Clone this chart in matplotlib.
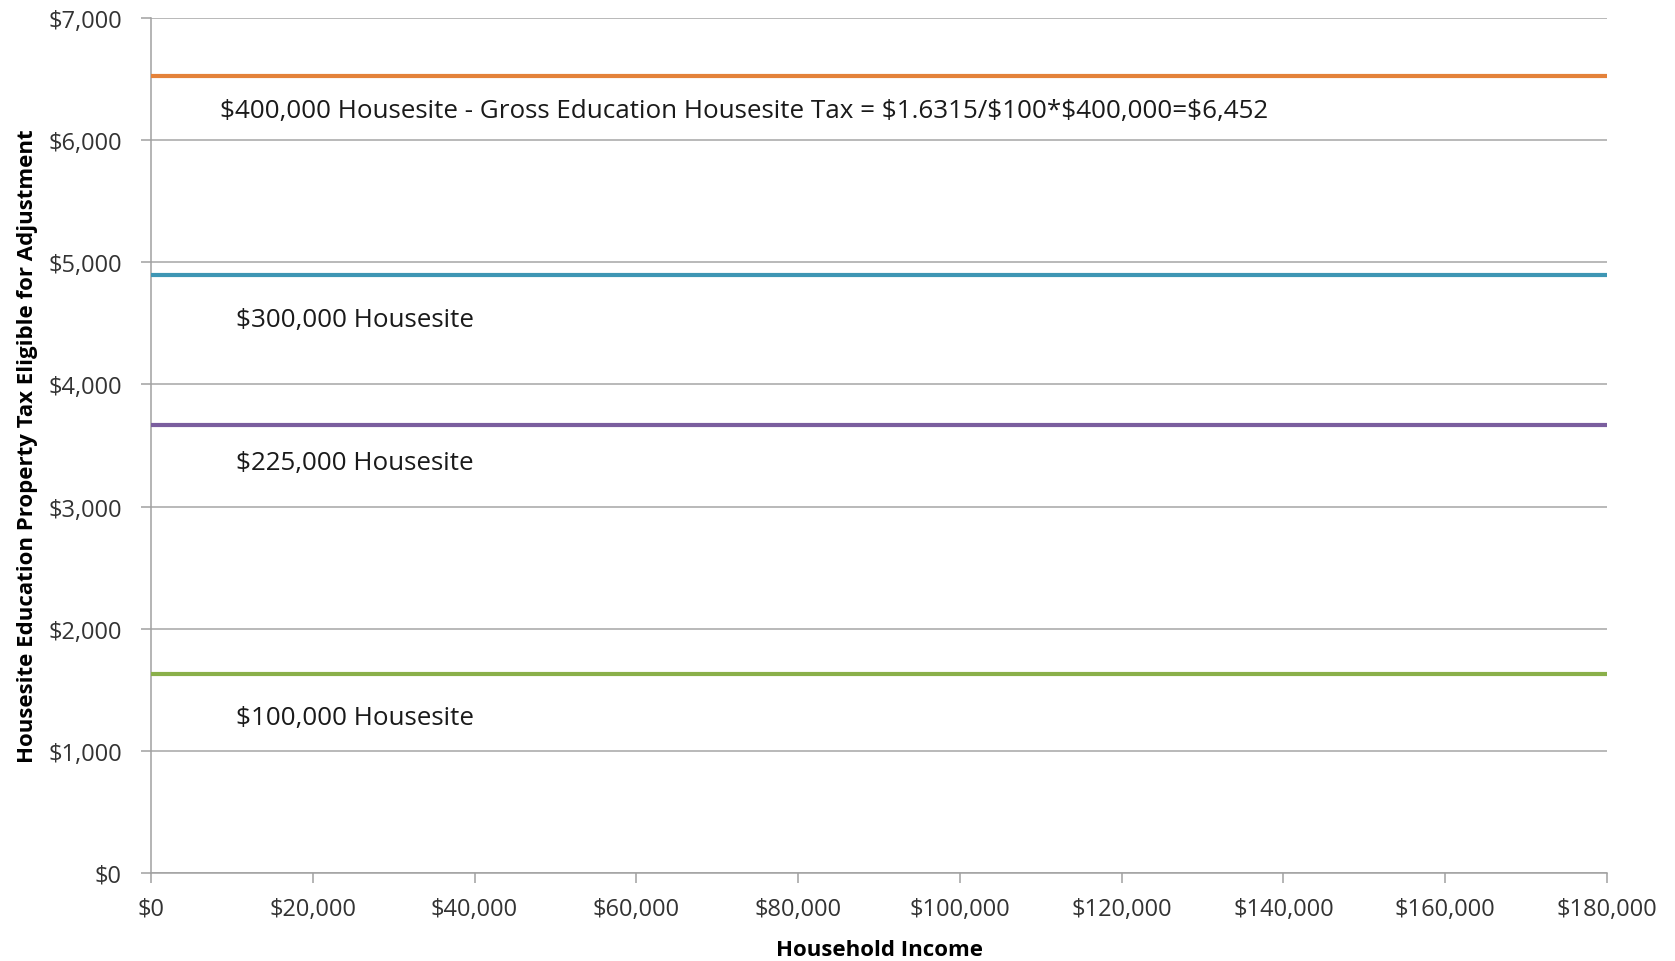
import matplotlib.pyplot as plt
from matplotlib.ticker import FuncFormatter, MultipleLocator

plt.rcParams['font.family'] = ['Open Sans', 'DejaVu Sans']

# household income range covered by each flat line
income = [0, 180000]

# gross education housesite tax for each housesite value
houses = ['$100,000', '$225,000', '$300,000', '$400,000']
tax = [1631.5, 3670.9, 4894.5, 6526.0]
colors = ['#8AB04A', '#7A5E9E', '#3E96B4', '#E4823A']

labels = [
    '$100,000 Housesite',
    '$225,000 Housesite',
    '$300,000 Housesite',
    '$400,000 Housesite - Gross Education Housesite Tax = $1.6315/$100*$400,000=$6,452',
]
label_x = [10500, 10500, 10500, 8500]
label_y = [1270, 3360, 4535, 6245]


def dollars(v, pos):
    return '${:,.0f}'.format(v)


fig = plt.figure(figsize=(16.75, 9.62), dpi=100)
ax = fig.add_axes([151 / 1675, 1 - 874 / 962, 1456 / 1675, 855 / 962])

for i in range(len(houses)):
    ax.plot(income, [tax[i], tax[i]], color=colors[i], lw=3.0,
            solid_capstyle='butt', zorder=3)
    ax.text(label_x[i], label_y[i], labels[i], fontsize=18.7,
            va='center', ha='left', color='#1a1a1a')

ax.set_xlim(0, 180000)
ax.set_ylim(0, 7000)
ax.xaxis.set_major_locator(MultipleLocator(20000))
ax.yaxis.set_major_locator(MultipleLocator(1000))
ax.xaxis.set_major_formatter(FuncFormatter(dollars))
ax.yaxis.set_major_formatter(FuncFormatter(dollars))

ax.grid(axis='y', color='#A6A6A6', lw=1.1)
ax.set_axisbelow(True)
for s in ['top', 'right']:
    ax.spines[s].set_visible(False)
for s in ['left', 'bottom']:
    ax.spines[s].set_color('#A0A0A0')
    ax.spines[s].set_linewidth(1.1)
ax.tick_params(axis='both', direction='out', length=7, width=1.1,
               color='#A0A0A0', labelsize=17, labelcolor='#333333')
ax.tick_params(axis='x', pad=10)
ax.tick_params(axis='y', pad=14)

ax.set_xlabel('Household Income', fontsize=16, fontweight='bold', labelpad=13)
ax.set_ylabel('Housesite Education Property Tax Eligible for Adjustment',
              fontsize=16, fontweight='bold', labelpad=7)

fig.savefig('out.png', dpi=100)
